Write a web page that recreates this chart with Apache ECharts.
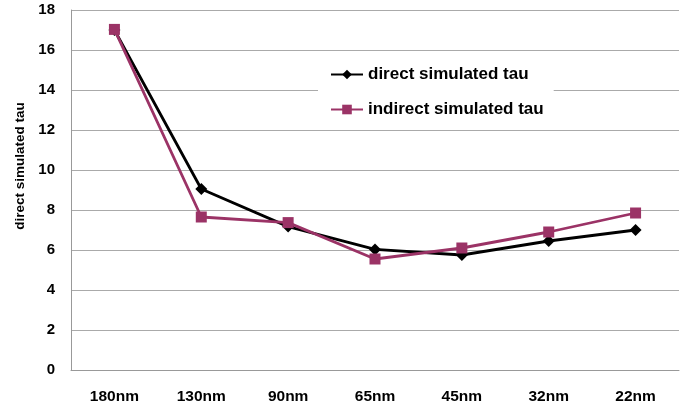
<!DOCTYPE html>
<html>
<head>
<meta charset="utf-8">
<script src="https://cdn.jsdelivr.net/npm/echarts@6/dist/echarts.min.js"></script>
<style>
  html, body { margin: 0; padding: 0; background: #fff; }
  #chart { width: 691px; height: 410px; }
</style>
</head>
<body>
<div id="chart"></div>
<script>
// Node sizes and simulated tau values
const categories = ['180nm', '130nm', '90nm', '65nm', '45nm', '32nm', '22nm'];
const directTau = [17.0, 9.05, 7.17, 6.03, 5.75, 6.45, 7.0];
const indirectTau = [17.03, 7.65, 7.37, 5.55, 6.1, 6.9, 7.85];
const yTicks = { min: 0, max: 18, interval: 2 };
const yTitle = 'direct simulated tau';

const chart = echarts.init(document.getElementById('chart'));
const font = 'Liberation Sans, Arial, sans-serif';

chart.setOption({
  animation: false,
  grid: { left: 71, right: 12, top: 10, bottom: 40 },
  graphic: [{
    type: 'text',
    x: 20,
    y: 166,
    rotation: Math.PI / 2,
    style: {
      text: yTitle,
      fontFamily: font,
      fontSize: 13.5,
      fontWeight: 'bold',
      fill: '#000',
      align: 'center',
      verticalAlign: 'middle'
    }
  }],
  legend: {
    orient: 'vertical',
    left: 318,
    top: 57,
    padding: [9, 10, 6, 12],
    backgroundColor: '#fff',
    itemWidth: 32,
    itemHeight: 12,
    itemGap: 18,
    textStyle: { fontFamily: font, fontSize: 17, fontWeight: 'bold', color: '#000' },
    data: ['direct simulated tau', 'indirect simulated tau']
  },
  xAxis: {
    type: 'category',
    data: categories,
    boundaryGap: true,
    axisLine: { lineStyle: { color: '#999', width: 1 } },
    axisTick: { show: false },
    axisLabel: { fontFamily: font, fontSize: 15.5, fontWeight: 'bold', color: '#000', margin: 19 }
  },
  yAxis: {
    type: 'value',
    min: yTicks.min,
    max: yTicks.max,
    interval: yTicks.interval,
    axisLine: { show: true, lineStyle: { color: '#999', width: 1 } },
    axisTick: { show: false },
    axisLabel: { fontFamily: font, fontSize: 15, fontWeight: 'bold', color: '#000', margin: 16 },
    splitLine: { lineStyle: { color: '#aaa', width: 1 } }
  },
  series: [
    {
      name: 'direct simulated tau',
      type: 'line',
      data: directTau,
      color: '#000',
      lineStyle: { width: 2.8, color: '#000' },
      symbol: 'diamond',
      symbolSize: 12,
      itemStyle: { color: '#000' },
      z: 3
    },
    {
      name: 'indirect simulated tau',
      type: 'line',
      data: indirectTau,
      color: '#9b3366',
      lineStyle: { width: 2.8, color: '#9b3366' },
      symbol: 'rect',
      symbolSize: 11,
      itemStyle: { color: '#9b3366' },
      z: 4
    }
  ]
});
</script>
</body>
</html>
